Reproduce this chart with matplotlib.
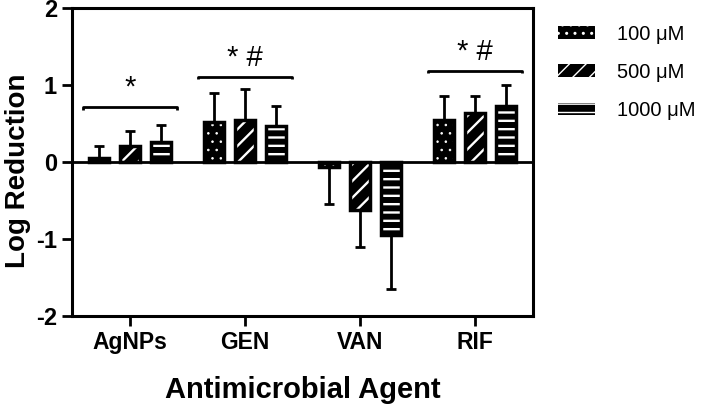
import numpy as np
import matplotlib
matplotlib.use("Agg")
from matplotlib import pyplot as plt
from matplotlib.patches import Patch

plt.rcParams['font.family'] = ['Liberation Sans', 'DejaVu Sans']
plt.rcParams['axes.unicode_minus'] = False

agents = ["AgNPs", "GEN", "VAN", "RIF"]
series = ["100 \u03bcM", "500 \u03bcM", "1000 \u03bcM"]
means_100 = [0.05, 0.52, -0.07, 0.55]
means_500 = [0.20, 0.54, -0.62, 0.64]
means_1000 = [0.26, 0.47, -0.95, 0.72]
sd_100 = [0.15, 0.38, 0.48, 0.31]
sd_500 = [0.20, 0.41, 0.48, 0.22]
sd_1000 = [0.22, 0.25, 0.70, 0.28]
hatches = ["..", "//", "--"]
hatch_lw = [0.6, 1.7, 1.7]

# significance brackets: (agent index, bracket height, label)
brackets = [(0, 0.71, "*"), (1, 1.10, "* #"), (3, 1.18, "* #")]

means = [means_100, means_500, means_1000]
sds = [sd_100, sd_500, sd_1000]

fig = plt.figure(figsize=(7.01, 4.13), dpi=100)
ax = fig.add_axes([0.103, 0.235, 0.657, 0.746])

x = np.arange(len(agents))
width = 0.175
offs = [-0.27, 0.0, 0.27]

handles = []
for i in range(3):
    pos = x + offs[i]
    m = np.array(means[i])
    s = np.array(sds[i])
    with plt.rc_context({'hatch.linewidth': hatch_lw[i]}):
        ax.bar(pos, m, width, color="black", edgecolor="white", hatch=hatches[i],
               linewidth=0, zorder=2)
        handles.append(Patch(facecolor="black", edgecolor="white",
                             hatch=hatches[i], linewidth=0))
    ax.bar(pos, m, width, fill=False, edgecolor="black", linewidth=2.5, zorder=3)
    lower = np.where(m < 0, s, 0)
    upper = np.where(m >= 0, s, 0)
    ax.errorbar(pos, m, yerr=[lower, upper], fmt="none", ecolor="black",
                elinewidth=2, capsize=3.6, capthick=2, zorder=1)

for idx, h, lab in brackets:
    x0 = idx + offs[0] - 0.14
    x1 = idx + offs[2] + 0.14
    ax.plot([x0, x0, x1, x1], [h - 0.03, h, h, h - 0.03], color="black", lw=2,
            solid_capstyle="butt")
    ax.text(idx, h + 0.07, lab, ha="center", va="bottom", fontsize=21)

ax.axhline(0, color="black", lw=2, zorder=4)
ax.set_xlim(-0.5, 3.5)
ax.set_ylim(-2, 2)
ax.set_yticks([-2, -1, 0, 1, 2])
ax.set_xticks(x)
ax.set_xticklabels(agents, fontsize=16.5, fontweight="bold")
for t in ax.get_yticklabels():
    t.set_fontsize(17)
    t.set_fontweight("bold")
ax.tick_params(axis="both", width=2, length=7, direction="out", pad=4)
for sp in ax.spines.values():
    sp.set_linewidth(2.2)

ax.set_ylabel("Log Reduction", fontsize=20, fontweight="bold")
ax.yaxis.set_label_coords(-0.089, 0.47)
ax.set_xlabel("Antimicrobial Agent", fontsize=21, fontweight="bold", labelpad=16)

fig.legend(handles, series, loc="upper left", bbox_to_anchor=(558 / 701, 0.94),
           frameon=False, fontsize=14.5, handlelength=1.84, handleheight=0.6,
           labelspacing=0.95, handletextpad=1.1, borderpad=0, borderaxespad=0)

fig.savefig("out.png", dpi=100)
